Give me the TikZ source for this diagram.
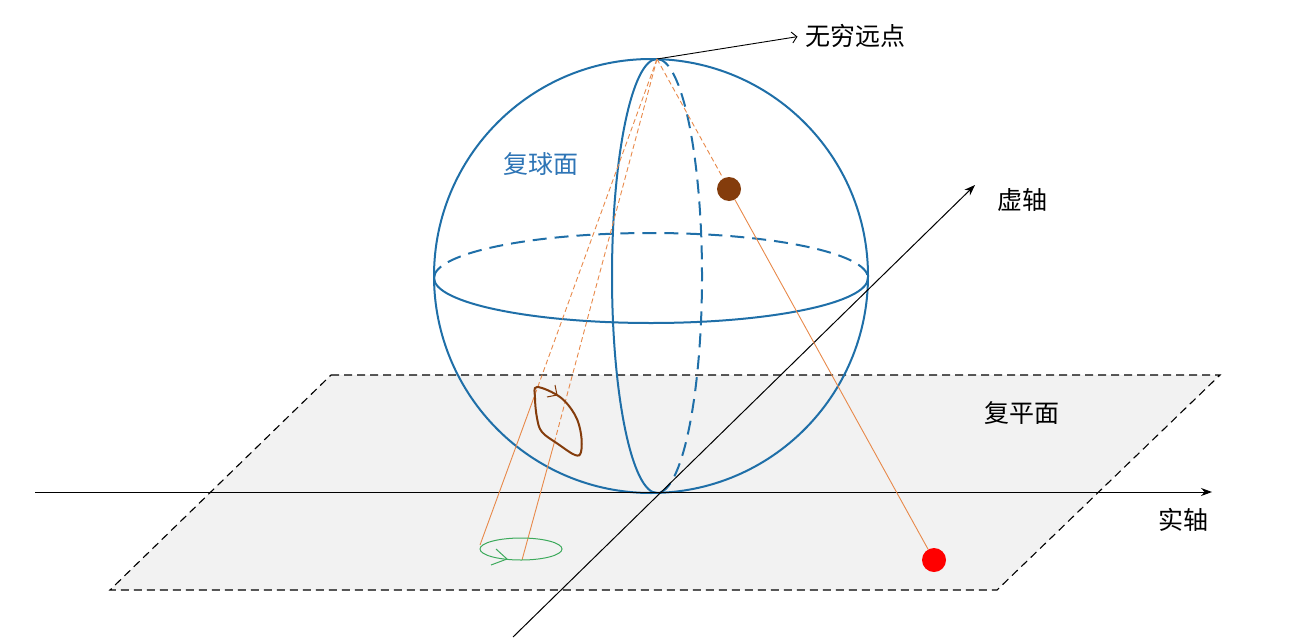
\documentclass[tikz,border=0pt]{standalone}
\usepackage{fontspec}
\newfontfamily\cjk{Noto Sans CJK SC}
\usepackage{tikz}
\usetikzlibrary{arrows.meta,calc,positioning}
\definecolor{sphereblue}{HTML}{1F6FA8}
\definecolor{textblue}{HTML}{2E75B6}
\definecolor{projorange}{HTML}{E8894A}
\definecolor{dotbrown}{HTML}{843C0C}
\definecolor{loopgreen}{HTML}{3DAA5C}
\definecolor{planegray}{HTML}{F2F2F2}

\begin{document}
\begin{tikzpicture}[x=1pt, y=-1pt,
		sphere/.style={draw=sphereblue, line width=2pt},
		hidden/.style={sphere, dash pattern=on 14pt off 8pt},
		proj/.style={draw=projorange, line width=0.9pt},
		projhidden/.style={proj, dash pattern=on 5pt off 3pt},
		axis/.style={line width=1pt, -{Stealth[length=11pt,width=8pt]}},
		lbl/.style={font=\cjk\fontsize{25}{30}\selectfont},
		dot/.style={circle, inner sep=0pt, minimum size=24pt},
		]
	\useasboundingbox (0,0) rectangle (1297,640);

	% --- plan complexe ---
	\coordinate (P1) at (331,375);
	\coordinate (P2) at (1220,375);
	\coordinate (P3) at (997,590);
	\coordinate (P4) at (110,590);
	\fill[planegray] (P1) -- (P2) -- (P3) -- (P4) -- cycle;
	\draw[line width=1.1pt, dash pattern=on 8pt off 5pt] (P1) -- (P2) -- (P3) -- (P4) -- cycle;
	\node[lbl] (plane) at (1022,413) {复平面};

	% --- sphère ---
	\coordinate (O) at (651,276);
	\coordinate (N) at (657,59);
	\draw[sphere] (O) circle [radius=217];
	\draw[sphere] (651,278) ++(0:217) arc [start angle=0, end angle=180, x radius=217, y radius=45];
	\draw[hidden] (651,278) ++(180:217) arc [start angle=180, end angle=360, x radius=217, y radius=45];
	\draw[sphere] (N) arc [start angle=270, end angle=90, x radius=45, y radius=217];
	\draw[hidden] (N) arc [start angle=-90, end angle=90, x radius=45, y radius=217];
	\node[lbl, text=textblue] (sph) at (541,164) {复球面};

	% --- axes ---
	\coordinate (Re0) at (35,492);
	\coordinate (Re1) at (1212,492);
	\coordinate (Im0) at (513,637);
	\coordinate (Im1) at (975,185);
	\draw[axis] (Re0) -- (Re1);
	\draw[axis] (Im0) -- (Im1);
	\node[lbl] (re) at (1183,520) {实轴};
	\node[lbl] (im) at (1022,200) {虚轴};

	% --- point à l'infini ---
	\node[lbl] (inf) at (855,36) {无穷远点};
	\draw[line width=0.9pt, shorten >=4pt, -{Straight Barb[length=5pt,width=11pt]}] (N) -- (inf.west);

	% --- projection d'un point ---
	\node[dot, fill=dotbrown] (z) at (729,189) {};
	\node[dot, fill=red] (w) at (934,560) {};
	\draw[projhidden] (N) -- (z);
	\draw[proj] (z) -- (w);

	% --- projection d'une courbe ---
	\coordinate (a1) at (533,400);
	\coordinate (a2) at (555,440);
	\coordinate (g1) at (480,545);
	\coordinate (g2) at (522,560);
	\draw[projhidden] (N) -- (a1);
	\draw[projhidden] (N) -- (a2);
	\draw[proj] (a1) -- (g1);
	\draw[proj] (a2) -- (g2);

	\draw[dotbrown, line width=2pt] plot[smooth cycle, tension=0.6] coordinates
		{(537,387) (560,397) (575,415) (581,434) (581,452) (575,455) (558,444) (542,432) (537,418) (535,398)};
	\draw[dotbrown, line width=1pt] (547,397) -- (557,395) -- (555,385);

	\draw[loopgreen, line width=1pt] (521,549) ellipse [x radius=41, y radius=11];
	\draw[loopgreen, line width=1pt] (496,549) -- (507,559) -- (491,565);

\end{tikzpicture}
\end{document}
